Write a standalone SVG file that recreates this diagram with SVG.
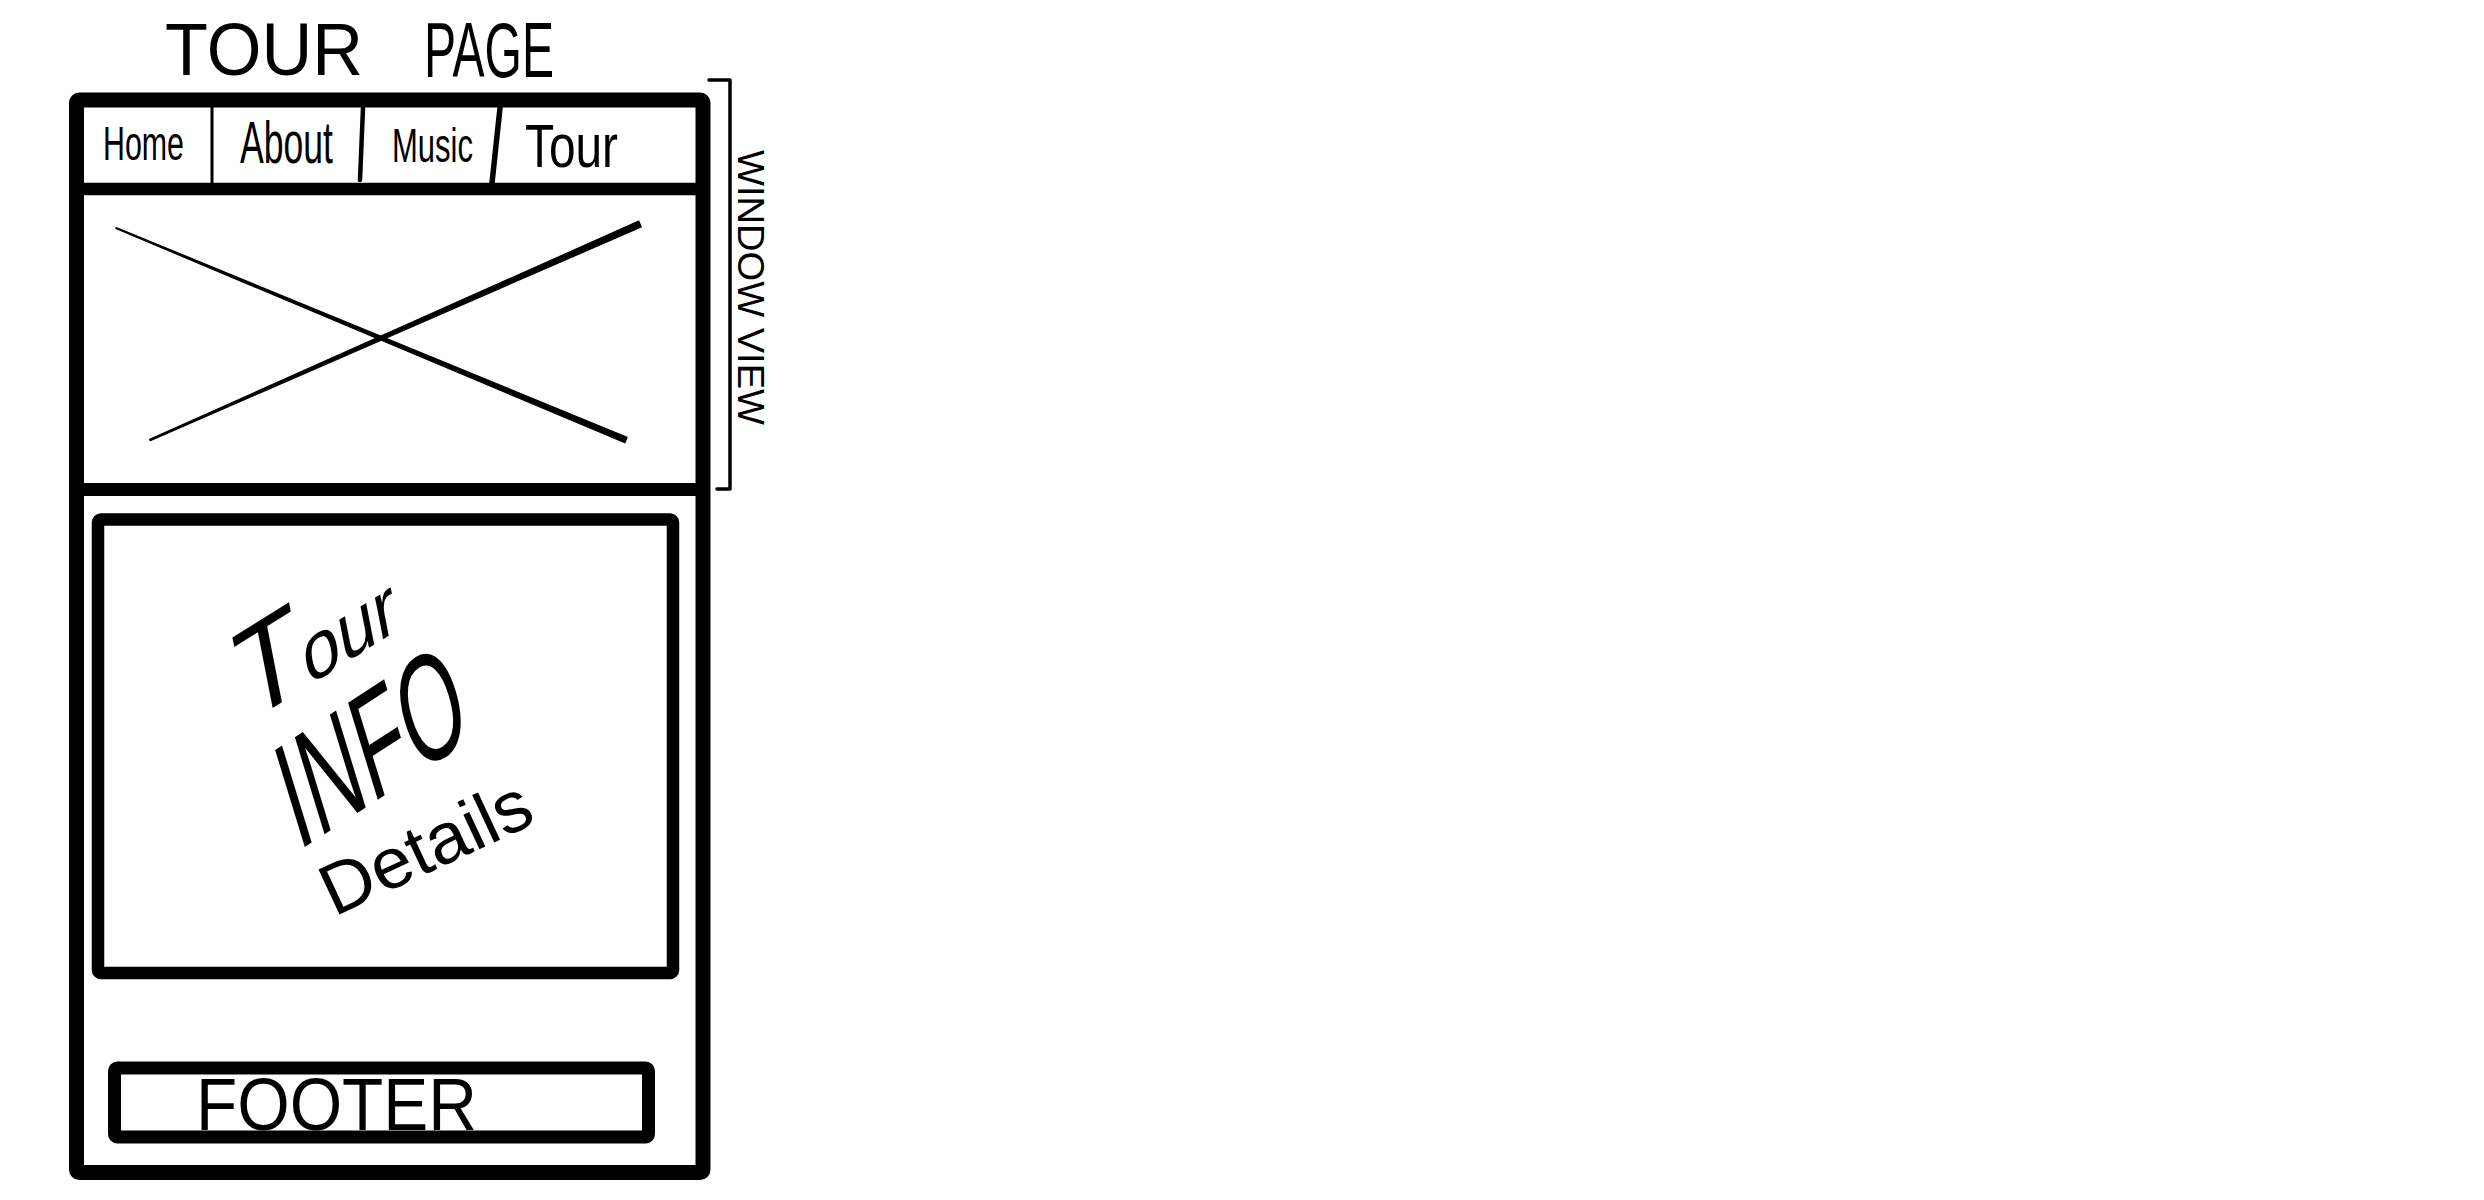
<svg xmlns="http://www.w3.org/2000/svg" width="2484" height="1200" viewBox="0 0 2484 1200">
<style>
.ink{fill:none;stroke:#000;stroke-linejoin:round;stroke-linecap:round}
.hand{font-family:"Liberation Sans","DejaVu Sans",Arial,sans-serif;fill:#000}
</style>
<rect x="0" y="0" width="2484" height="1200" fill="#fff"/>
<g id="title">
<text class="hand" x="165" y="75" font-size="74" textLength="198" lengthAdjust="spacingAndGlyphs">TOUR</text>
<text class="hand" x="424" y="77" font-size="78" textLength="130" lengthAdjust="spacingAndGlyphs">PAGE</text>
</g>
<g id="frame">
<rect class="ink" x="76.5" y="100" width="626.5" height="1072.5" rx="3" stroke-width="15"/>
</g>
<g id="nav">
<line class="ink" x1="76.5" y1="189" x2="703" y2="189" stroke-width="12.5" stroke-linecap="butt"/>
<line class="ink" x1="212" y1="107" x2="212" y2="183" stroke-width="3"/>
<line class="ink" x1="363" y1="108" x2="360" y2="180" stroke-width="4.5"/>
<line class="ink" x1="500" y1="108" x2="492" y2="183" stroke-width="5.5"/>
<text class="hand" x="103" y="160" font-size="49" textLength="81" lengthAdjust="spacingAndGlyphs">Home</text>
<text class="hand" x="240" y="163" font-size="60" textLength="93" lengthAdjust="spacingAndGlyphs">About</text>
<text class="hand" x="392" y="162" font-size="49" textLength="81" lengthAdjust="spacingAndGlyphs">Music</text>
<text class="hand" x="525" y="167" font-size="62" textLength="93" lengthAdjust="spacingAndGlyphs">Tour</text>
</g>
<g id="hero">
<line class="ink" x1="76.5" y1="489.5" x2="703" y2="489.5" stroke-width="13" stroke-linecap="butt"/>
<path d="M115.8,228.5 L116.2,227.5 L627.1,437.2 L624.9,442.8 Z" fill="#000" stroke="#000" stroke-width="1.2" stroke-linejoin="round"/>
<path d="M638.7,221.1 L641.3,226.9 L150.3,440.7 L149.7,439.3 Z" fill="#000" stroke="#000" stroke-width="1.2" stroke-linejoin="round"/>
</g>
<g id="content">
<rect class="ink" x="98" y="519.5" width="575" height="453.5" rx="3" stroke-width="12.5"/>
<text class="hand" transform="translate(257,718) rotate(-32) skewX(-21)" x="-12" y="0"><tspan font-size="118">T</tspan><tspan font-size="75">our</tspan></text>
<text class="hand" transform="translate(308,845) rotate(-33) skewX(-16)" x="-12" y="0" font-size="142" textLength="210" lengthAdjust="spacingAndGlyphs">INFO</text>
<text class="hand" transform="translate(334,917) rotate(-25)" x="0" y="0" font-size="72" textLength="225" lengthAdjust="spacingAndGlyphs">Details</text>
</g>
<g id="footer">
<rect class="ink" x="114.5" y="1068" width="534" height="69" rx="3" stroke-width="13"/>
<text class="hand" x="196" y="1130" font-size="74" textLength="281" lengthAdjust="spacingAndGlyphs">FOOTER</text>
</g>
<g id="window-view">
<path class="ink" d="M709,80 L730,80 L730,489 L717,489" stroke-width="3.5"/>
<text class="hand" transform="translate(738,150) rotate(90)" x="0" y="0" font-size="36" textLength="275" lengthAdjust="spacingAndGlyphs">WINDOW VIEW</text>
</g>
<g id="connectors"/>
</svg>
